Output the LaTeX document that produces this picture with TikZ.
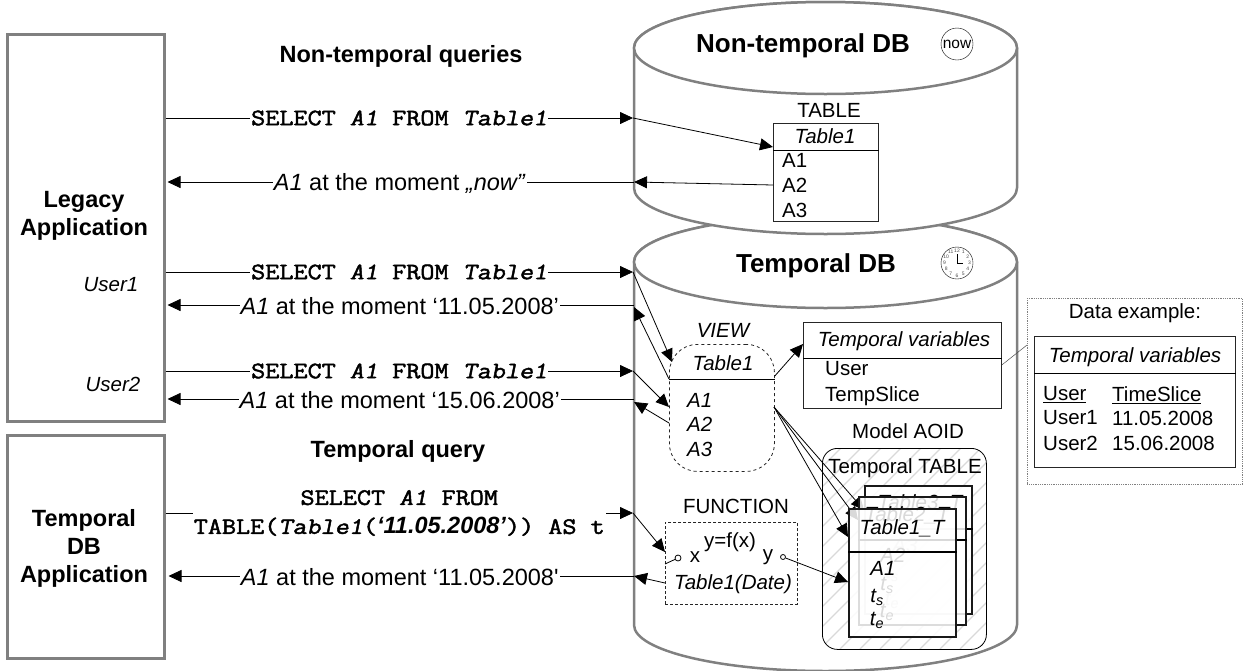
\documentclass[tikz,border=0pt]{standalone}
\usepackage{fontspec}
\setmainfont{Liberation Sans}[Ligatures=TeXOff]
\newfontfamily\sqlfamily{Latin Modern Mono}[FakeBold=2, FakeStretch=1.165, ItalicFont=Latin Modern Mono, ItalicFeatures={FakeSlant=0.2, FakeBold=2, FakeStretch=1.165}]
\usepackage{tikz}
\usetikzlibrary{arrows.meta, positioning}
\newcommand{\bigfont}{\fontsize{23.5}{28}\selectfont}
\newcommand{\midfont}{\fontsize{20.5}{24}\selectfont}
\newcommand{\sqlfont}{\fontsize{23.5}{29}\selectfont\sqlfamily}

\begin{document}
\begin{tikzpicture}[
        x=1pt, y=-1pt,
        appbox/.style={rectangle, draw=gray, line width=2.5pt, minimum width=157pt, anchor=north west},
        dbline/.style={draw=gray, fill=white, line width=2.5pt},
        tablebox/.style={rectangle, draw=black!85, line width=0.8pt, anchor=north west},
        stackbox/.style={rectangle, draw=black!90, line width=1.5pt, anchor=north west, fill=white, fill opacity=.85, minimum width=107pt, minimum height=128pt},
        arrow/.style={-{Triangle[length=13pt,width=12pt]}, line width=0.8pt},
        thinline/.style={line width=0.8pt},
        msg/.style={font=\bigfont, fill=white, inner sep=1pt, yshift=-1pt},
        sql/.style={font=\sqlfont, fill=white, inner sep=1pt, align=center},
        head/.style={font=\bigfont\bfseries, inner sep=0pt},
        title/.style={font=\fontsize{26}{30}\selectfont\bfseries, inner sep=0pt},
        apptext/.style={font=\bigfont\bfseries, align=center, inner sep=0pt},
        txt/.style={font=\midfont, inner sep=0pt},
        faint/.style={font=\midfont\itshape, inner sep=0pt}
    ]
        \useasboundingbox (0,0) rectangle (1243,670);

        % applications
        \node[appbox, minimum height=387pt] (legacy) at (6,33) {};
        \node[appbox, minimum height=223pt] (tempapp) at (6,434) {};
        \node[apptext] (legacytext) at (84,216) {Legacy\\[0pt]Application};
        \node[apptext] (tempapptext) at (84,548) {Temporal\\DB\\Application};
        \node[txt, font=\midfont\itshape] (user1) at (111,285) {User1};
        \node[txt, font=\midfont\itshape] (user2) at (113,384) {User2};

        % temporal DB first, the other one lies over it
        \path[dbline] (634,262) -- (634,625) arc[start angle=180, end angle=0, x radius=191.5, y radius=46] -- (1017,262)
            arc[start angle=0, end angle=-180, x radius=191.5, y radius=46] -- cycle;
        \draw[dbline] (825.5,262) ellipse[x radius=191.5, y radius=46];
        \path[dbline] (634,48) -- (634,188) arc[start angle=180, end angle=0, x radius=191.5, y radius=46] -- (1017,48)
            arc[start angle=0, end angle=-180, x radius=191.5, y radius=46] -- cycle;
        \draw[dbline] (825.5,48) ellipse[x radius=191.5, y radius=46];
        \node[title] (ntitle) at (803,46) {Non-temporal DB};
        \node[title] (ttitle) at (816,266) {Temporal DB};

        % now and clock
        \node[circle, draw, minimum size=32pt, inner sep=0pt, font=\fontsize{15.5}{17}\selectfont] (now) at (957,44) {now};
        \node[circle, draw, minimum size=32pt, inner sep=0pt] (clock) at (957,263) {};
        \foreach \h in {1,...,12}
            \node[inner sep=0pt, text=black!70, font=\fontsize{5}{5}\selectfont] (h\h) at ({957+12.5*sin(\h*30)},{263-12.5*cos(\h*30)}) {\h};
        \draw[line width=1pt] (957,254) -- (clock.center) -- (963,263);

        % table of the non-temporal DB
        \node[txt] (tablelabel) at (829,110) {TABLE};
        \node[tablebox, fill=white, minimum width=105pt, minimum height=98pt] (tbl) at (773,123) {};
        \draw[thinline] ([yshift=-27pt]tbl.north west) -- ([yshift=-27pt]tbl.north east);
        \node[faint] (tblname) at (825,136) {Table1};
        \node[txt, anchor=west] (tbla1) at (782,160) {A1};
        \node[txt, anchor=west] (tbla2) at (782,185) {A2};
        \node[txt, anchor=west] (tbla3) at (782,210) {A3};

        % view
        \node[faint] (viewlabel) at (723,330) {VIEW};
        \node[tablebox, dashed, rounded corners=28pt, minimum width=105pt, minimum height=127pt] (view) at (669,344) {};
        \draw[thinline] ([yshift=-35pt]view.north west) -- ([yshift=-35pt]view.north east);
        \node[faint] (viewname) at (723,363) {Table1};
        \node[faint, anchor=west] (viewa1) at (687,400) {A1};
        \node[faint, anchor=west] (viewa2) at (687,424) {A2};
        \node[faint, anchor=west] (viewa3) at (687,449) {A3};

        % temporal variables
        \node[tablebox, minimum width=198pt, minimum height=86pt] (vars) at (803,322) {};
        \draw[thinline] ([yshift=-36pt]vars.north west) -- ([yshift=-36pt]vars.north east);
        \node[faint] (varsname) at (904,341) {Temporal variables};
        \node[txt, anchor=west] (varsuser) at (825,369) {User};
        \node[txt, anchor=west] (varsslice) at (825,396) {TempSlice};

        % data example
        \node[tablebox, draw=gray, densely dotted, minimum width=215pt, minimum height=186pt] (example) at (1027,298) {};
        \node[txt] (examplelabel) at (1135,313) {Data example:};
        \node[tablebox, minimum width=201pt, minimum height=131pt] (exvars) at (1034,336) {};
        \draw[thinline] ([yshift=-37pt]exvars.north west) -- ([yshift=-37pt]exvars.north east);
        \node[faint] (exname) at (1135,357) {Temporal variables};
        \node[txt, anchor=west] (exuser) at (1043,395) {\underline{User}};
        \node[txt, anchor=west] (exslice) at (1112,395) {\underline{TimeSlice}};
        \node[txt, anchor=west] (exuser1) at (1043,418) {User1};
        \node[txt, anchor=west] (exdate1) at (1112,418) {11.05.2008};
        \node[txt, anchor=west] (exuser2) at (1043,443) {User2};
        \node[txt, anchor=west] (exdate2) at (1112,443) {15.06.2008};
        \draw[line width=0.5pt, black!70] ([yshift=-43pt]vars.north east) -- ([yshift=-47pt]example.north west);

        % function
        \node[txt] (funclabel) at (736,506) {FUNCTION};
        \node[tablebox, densely dashed, minimum width=132pt, minimum height=82pt] (func) at (665,522) {};
        \node[txt] (funcname) at (730,542) {y=f(x)};
        \node[txt] (funcx) at (695,557) {x};
        \node[txt] (funcy) at (768,557) {y};
        \node[faint] (funcdate) at (733,584) {Table1(Date)};
        \node[circle, draw, minimum size=6pt, inner sep=0pt, line width=0.8pt] (portx) at (678,558) {};
        \node[circle, draw, minimum size=5pt, inner sep=0pt, line width=0.8pt] (porty) at (783,557) {};
        \coordinate (funcin) at (665,564);
        \draw[thinline] (funcin) -- (portx);

        % model AOID with the stack of tables
        \node[txt] (modellabel) at (908,431) {Model AOID};
        \begin{scope}
            \clip[rounded corners=15pt] (822,448) rectangle (986,649);
            \foreach \hx in {620,640,...,1000}
                \draw[black!15, line width=1.2pt] (\hx,649) -- (\hx+201,448);
        \end{scope}
        \node[tablebox, draw=black, rounded corners=15pt, minimum width=164pt, minimum height=201pt] (model) at (822,448) {};
        \node[txt] (temptable) at (905,468) {Temporal TABLE};

        \coordinate (viewout) at (774,407);
        \node[stackbox] (t3) at (864,485) {};
        \draw[line width=1.5pt] ([yshift=-44pt]t3.north west) -- ([yshift=-44pt]t3.north east);
        \node[faint] (t3name) at (920,503) {Table3\textunderscore T};
        \node[faint] (t3a) at (905,545) {A3};
        \node[faint] (t3s) at (892,573) {t\textsubscript{s}};
        \node[faint] (t3e) at (892,600) {t\textsubscript{e}};
        \draw[arrow] (viewout) -- ([yshift=-25pt]t3.north west);
        \node[stackbox] (t2) at (858,496) {};
        \draw[line width=1.5pt] ([yshift=-44pt]t2.north west) -- ([yshift=-44pt]t2.north east);
        \node[faint] (t2name) at (907,515) {Table2\textunderscore T};
        \node[faint] (t2a) at (893,555) {A2};
        \node[faint] (t2s) at (887,585) {t\textsubscript{s}};
        \node[faint] (t2e) at (887,612) {t\textsubscript{e}};
        \draw[arrow] (viewout) -- ([yshift=-24pt]t2.north west);
        \node[stackbox] (t1) at (848,508) {};
        \draw[line width=1.5pt] ([yshift=-44pt]t1.north west) -- ([yshift=-44pt]t1.north east);
        \node[faint] (t1name) at (902,528) {Table1\textunderscore T};
        \node[faint] (t1a) at (883,568) {A1};
        \node[faint] (t1s) at (877,597) {t\textsubscript{s}};
        \node[faint] (t1e) at (877,620) {t\textsubscript{e}};
        \draw[arrow] (viewout) -- ([yshift=-29pt]t1.north west);

        % points where the messages cross the wall of a DB
        \coordinate (q1) at (633,118);
        \coordinate (r1) at (634,182);
        \coordinate (q2) at (633,272);
        \coordinate (r2) at (634,305);
        \coordinate (q3) at (633,371);
        \coordinate (r3) at (634,399);
        \coordinate (q4) at (633,513);
        \coordinate (r4) at (634,576);
        \coordinate (s1) at (634,402);
        \coordinate (s2) at (634,307);

        % headings
        \node[head] (nthead) at (401,56) {Non-temporal queries};
        \node[head] (thead) at (398,451) {Temporal query};

        % messages
        \draw[arrow] (legacy.east |- q1) -- node[sql] {SELECT \textit{A1} FROM \textit{Table1}} (q1);
        \draw[arrow, shorten >=2pt] (r1) -- node[msg] {\textit{A1} at the moment \textit{„now”}} (legacy.east |- r1);
        \draw[arrow] (legacy.east |- q2) -- node[sql] {SELECT \textit{A1} FROM \textit{Table1}} (q2);
        \draw[arrow, shorten >=2pt] (r2) -- node[msg] {\textit{A1} at the moment ‘11.05.2008’} (legacy.east |- r2);
        \draw[arrow] (legacy.east |- q3) -- node[sql] {SELECT \textit{A1} FROM \textit{Table1}} (q3);
        \draw[arrow, shorten >=2pt] (r3) -- node[msg] {\textit{A1} at the moment ‘15.06.2008’} (legacy.east |- r3);
        \draw[arrow] (tempapp.east |- q4) -- node[sql] {SELECT \textit{A1} FROM\\TABLE(\textit{Table1}({\rmfamily\bfseries\itshape ‘11.05.2008’})) AS t} (q4);
        \draw[arrow, shorten >=3pt] (r4) -- node[msg] {\textit{A1} at the moment ‘11.05.2008'} (tempapp.east |- r4);

        % inside the DBs
        \draw[arrow] (q1) -- ([yshift=-24pt]tbl.north west);
        \draw[arrow] ([yshift=-62pt]tbl.north west) -- (r1);
        \draw[arrow] (q2) -- ([xshift=3pt,yshift=-18pt]view.north west);
        \draw[arrow] ([yshift=-35pt]view.north west) -- (s2);
        \draw[arrow] (q3) -- ([yshift=-63pt]view.north west);
        \draw[arrow] ([yshift=-79pt]view.north west) -- (s1);
        \draw[arrow] ([yshift=-32pt]view.north east) -- ([yshift=-22pt]vars.north west);
        \draw[arrow] (q4) -- ([yshift=-30pt]func.north west);
        \draw[arrow] ([yshift=-61pt]func.north west) -- (r4);
        \draw[arrow] (porty) -- ([yshift=-74pt]t1.north west);
    \end{tikzpicture}
\end{document}
